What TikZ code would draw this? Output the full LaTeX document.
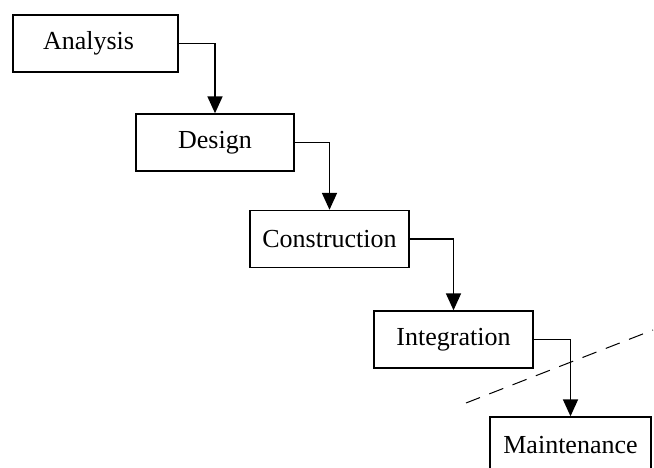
\documentclass[tikz,border=0pt]{standalone}
\usepackage{fontspec}
\setmainfont{Liberation Serif}
\usepackage{tikz}
\usetikzlibrary{positioning,arrows.meta}

\begin{document}
\begin{tikzpicture}[x=1pt, y=-1pt, >={Triangle[length=17pt, width=15pt]},
    every node/.style={font=\fontsize{26}{30}\selectfont},
    stage/.style={draw, rectangle, line width=1.4pt, minimum height=57pt, inner sep=0pt}]
    \clip (0,0) rectangle (654,468);
    \node [stage, minimum width=165pt] (analysis) at (95.5,43.5) {Analysis\hspace*{14pt}};
    \node [stage, minimum width=158pt] (design) at (215,142.5) {Design};
    \node [stage, minimum width=159pt] (construction) at (329.5,239) {Construction};
    \node [stage, minimum width=159pt] (integration) at (453.5,339.5) {Integration};
    \node [stage, minimum width=161pt] (maintenance) at (570.5,445.5) {Maintenance};

    \draw [->, line width=1.8pt] (analysis) -| (design);
    \draw [->, line width=1.8pt] (design) -| (construction);
    \draw [->, line width=1.8pt] (construction) -| (integration);
    \draw [->, line width=1.8pt] (integration) -| (maintenance);

    % boundary
    \coordinate (cutlow) at (466,403);
    \coordinate (cuthigh) at (653,330);
    \draw [line width=1pt, dash pattern=on 15pt off 10pt] (cutlow) -- (cuthigh);
\end{tikzpicture}
\end{document}
